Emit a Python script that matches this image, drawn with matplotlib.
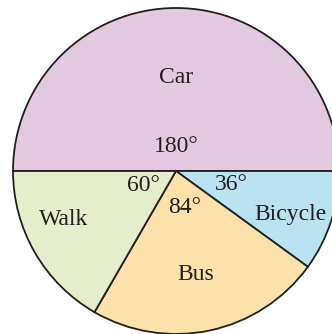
import matplotlib.pyplot as plt

# Ways of travelling to school, in degrees of the circle
modes = ['Car', 'Bicycle', 'Bus', 'Walk']
angles = [180, 36, 84, 60]
colors = ['#E3C9DF', '#B9E3F1', '#FDE1AA', '#E4EDCC']

# where each name and angle sits inside the circle (radius 1)
name_pos = [(0.0, 0.575), (0.70, -0.265), (0.12, -0.635), (-0.69, -0.295)]
angle_pos = [(0.0, 0.15), (0.34, -0.08), (0.05, -0.225), (-0.20, -0.09)]

plt.rcParams['font.family'] = ['Liberation Serif', 'DejaVu Serif']

fig = plt.figure(figsize=(3.32, 3.34), dpi=100)
ax = fig.add_axes([0, 0, 1, 1])

ax.pie(angles, colors=colors, startangle=180, counterclock=False, radius=1,
       wedgeprops=dict(edgecolor='#231F20', linewidth=1.3))

for mode, pos in zip(modes, name_pos):
    ax.text(pos[0], pos[1], mode, ha='center', va='center', fontsize=17, color='#231F20')
for a, pos in zip(angles, angle_pos):
    ax.text(pos[0], pos[1], f'{a}°', ha='center', va='center', fontsize=17, color='#231F20')

# centre of the circle at (176, 171) px, radius 163 px
r = 163.0
ax.set_xlim(-176 / r, (332 - 176) / r)
ax.set_ylim(-(334 - 171) / r, 171 / r)
ax.set_aspect('auto')
ax.axis('off')

fig.savefig('out.png', dpi=100)
